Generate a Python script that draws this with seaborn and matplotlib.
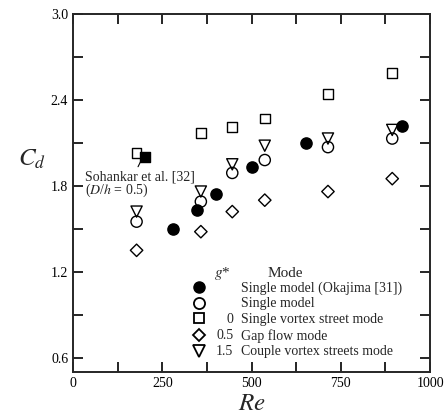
import matplotlib
matplotlib.use("Agg")
import matplotlib.pyplot as plt
from matplotlib.lines import Line2D
import seaborn as sns
import pandas as pd

# Data
re_okajima = [281, 347, 400, 501, 652, 921]
cd_okajima = [1.50, 1.63, 1.74, 1.93, 2.10, 2.22]

re_single = [178, 358, 446, 537, 714, 894]
cd_single = [1.55, 1.69, 1.89, 1.98, 2.07, 2.13]

re_g0 = [178, 358, 446, 537, 714, 894]
cd_g0 = [2.03, 2.17, 2.21, 2.27, 2.44, 2.59]

re_g05 = [178, 358, 446, 537, 714, 894]
cd_g05 = [1.35, 1.48, 1.62, 1.70, 1.76, 1.85]

re_g15 = [178, 358, 446, 537, 714, 894]
cd_g15 = [1.62, 1.76, 1.95, 2.08, 2.13, 2.19]

re_sohankar = [202]
cd_sohankar = [2.00]

gstar_labels = ["", "", "0", "0.5", "1.5"]
mode_labels = ["Single model (Okajima [31])", "Single model",
               "Single vortex street mode", "Gap flow mode",
               "Couple vortex streets mode"]

sns.set_style("ticks")
plt.rcParams['font.family'] = ['Liberation Serif', 'DejaVu Serif']
plt.rcParams['mathtext.fontset'] = 'stix'

fig = plt.figure(figsize=(4.48, 4.2), dpi=100)
ax = fig.add_axes([0.163, 0.114, 0.797, 0.853])

ms = 65
common = dict(ax=ax, edgecolor='black', linewidth=1.0, zorder=3, legend=False)
sns.scatterplot(x=re_g0, y=cd_g0, marker='s', s=50, facecolor='none', **common)
sns.scatterplot(x=re_g05, y=cd_g05, marker='D', s=40, facecolor='none', **common)
sns.scatterplot(x=re_g15, y=cd_g15, marker='v', s=65, facecolor='none', **common)
sns.scatterplot(x=re_single, y=cd_single, marker='o', s=ms, facecolor='none', **common)
sns.scatterplot(x=re_okajima, y=cd_okajima, marker='o', s=ms, color='black', **common)
sns.scatterplot(x=re_sohankar, y=cd_sohankar, marker='s', s=45, color='black', **common)

ax.set_xlim(0, 1000)
ax.set_ylim(0.5, 3.0)
ax.set_xticks([0, 250, 500, 750, 1000])
ax.set_xticks([125, 375, 625, 875], minor=True)
ax.set_yticks([0.6, 1.2, 1.8, 2.4, 3.0])
ax.set_yticks([0.9, 1.5, 2.1, 2.7], minor=True)
ax.set_yticklabels(["0.6", "1.2", "1.8", "2.4", "3.0"])
ax.tick_params(which='both', direction='in', top=True, right=True,
               labelsize=10, width=1.2, colors='black')
ax.tick_params(which='major', length=7)
ax.tick_params(which='minor', length=7)
for sp in ax.spines.values():
    sp.set_linewidth(1.4)
    sp.set_visible(True)

ax.set_xlabel("$\\mathit{Re}$", fontsize=18, labelpad=2)
ax.set_ylabel("$C_d$", fontsize=18, rotation=0)
ax.yaxis.set_label_coords(-0.115, 0.56)

# Annotation
ax.annotate("Sohankar et al. [32]", xy=(191, 1.978),
            xytext=(34, 1.865), fontsize=10, ha='left', va='center',
            arrowprops=dict(arrowstyle='-', color='black', lw=0.8,
                            shrinkA=0, shrinkB=0, relpos=(0.45, 0.72)))
ax.text(34, 1.77, "($D$/$h$ = 0.5)", fontsize=10, ha='left', va='center')

# Legend
handles = [
    Line2D([], [], marker='o', color='black', mfc='black', ls='', ms=8),
    Line2D([], [], marker='o', color='black', mfc='none', ls='', ms=8, mew=1.3),
    Line2D([], [], marker='s', color='black', mfc='none', ls='', ms=7, mew=1.3),
    Line2D([], [], marker='D', color='black', mfc='none', ls='', ms=6.5, mew=1.3),
    Line2D([], [], marker='v', color='black', mfc='none', ls='', ms=8, mew=1.3),
]
leg = ax.legend(handles, mode_labels, loc='upper left', bbox_to_anchor=(0.333, 0.254),
                frameon=False, fontsize=10, handlelength=1.0, handletextpad=2.5,
                labelspacing=0.2, borderpad=0, borderaxespad=0)

fig.canvas.draw()
renderer = fig.canvas.get_renderer()
inv = ax.transAxes.inverted()
texts = leg.get_texts()
for lab, t in zip(gstar_labels, texts):
    bb = t.get_window_extent(renderer)
    x0, y0 = inv.transform((bb.x0, (bb.y0 + bb.y1) / 2))
    if lab:
        ax.text(x0 - 0.02, y0, lab, transform=ax.transAxes, fontsize=10,
                ha='right', va='center')
bb0 = texts[0].get_window_extent(renderer)
xc, yc = bb0.x0, (bb0.y0 + bb0.y1) / 2
gx, gy = inv.transform((xc - 18, yc + 14))
mx, my = inv.transform((xc + 27, yc + 14))
ax.text(gx, gy, "$g$*", transform=ax.transAxes, fontsize=11,
        ha='center', va='center')
ax.text(mx, my, "Mode", transform=ax.transAxes, fontsize=11,
        ha='left', va='center')

fig.savefig("out.png", dpi=100)
